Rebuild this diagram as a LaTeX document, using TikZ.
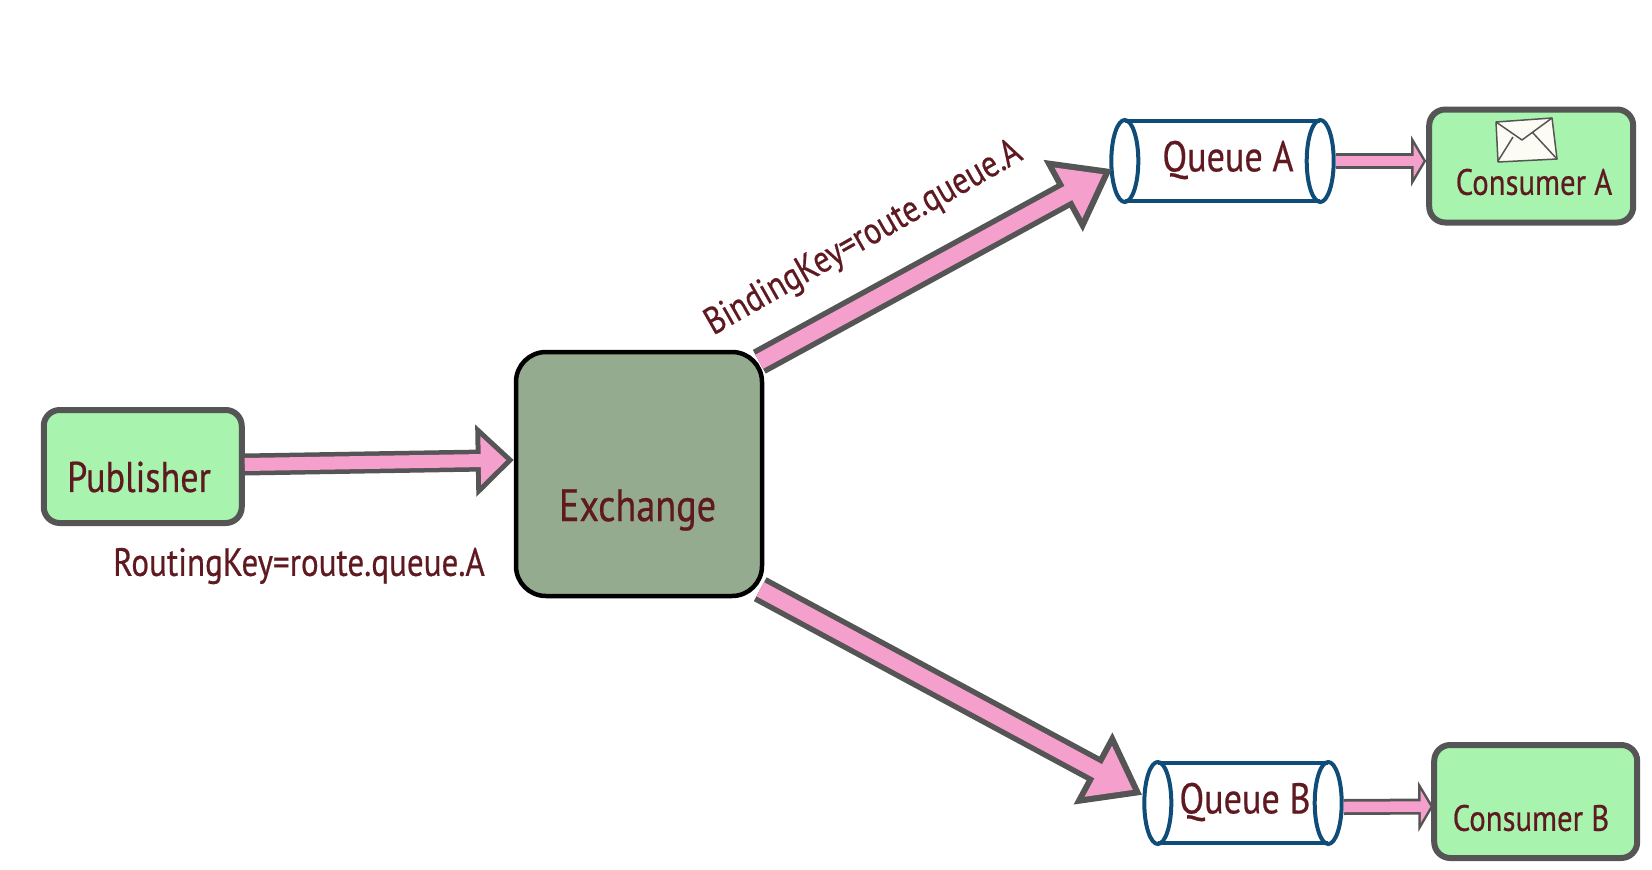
\documentclass[tikz,border=0pt]{standalone}
\usepackage{fontspec}
\setmainfont[FakeStretch=0.84,FakeBold=0.5]{PT Sans}
\usepackage{tikz}
\usetikzlibrary{
  arrows.meta,
  positioning,
  calc,
  shapes.geometric
}
\definecolor{labelred}{HTML}{5E1A20}
\definecolor{boxgreen}{HTML}{A8F3AE}
\definecolor{boxgrey}{HTML}{555555}
\definecolor{exchgreen}{HTML}{94AB90}
\definecolor{arrowpink}{HTML}{F5A0CC}
\definecolor{queueblue}{HTML}{0F4C78}
\definecolor{envelopefill}{HTML}{FCFCF4}

\begin{document}
\begin{tikzpicture}[
  x=1pt, y=-1pt,
  greenbox/.style={draw=boxgrey, fill=boxgreen, line width=6pt, rounded corners=16pt, minimum width=198pt, minimum height=113pt},
  exchangebox/.style={draw=black, fill=exchgreen, line width=4.5pt, rounded corners=30pt, minimum width=246pt, minimum height=244pt},
  queuebox/.style={minimum height=80pt, inner sep=0pt},
  queueline/.style={draw=queueblue, line width=4pt},
  queuecap/.style={ellipse, draw=queueblue, fill=white, line width=4pt, minimum width=27pt, minimum height=82pt, inner sep=0pt},
  labeltext/.style={text=labelred, font=\fontsize{43}{46}\selectfont},
  smalltext/.style={text=labelred, font=\fontsize{36.6}{40}\selectfont},
  keytext/.style={text=labelred, font=\fontsize{39.4}{42}\selectfont},
  wideedge/.style={draw=boxgrey, line width=22pt, -{Triangle[length=38pt,width=70pt]}},
  widefill/.style={draw=arrowpink, line width=13pt, shorten >=7.4pt, -{Triangle[length=25.6pt,width=47pt]}},
  diagedge/.style={draw=boxgrey, line width=27pt, -{Triangle[length=56pt,width=78pt]}},
  diagfill/.style={draw=arrowpink, line width=16pt, shorten >=10.5pt, -{Triangle[length=39.5pt,width=55pt]}},
  thinedge/.style={draw=boxgrey, line width=16pt, -{Triangle[length=15pt,width=50pt]}},
  thinfill/.style={draw=arrowpink, line width=10.5pt, shorten >=2.9pt, -{Triangle[length=9.6pt,width=32pt]}}
]
\useasboundingbox (0,0) rectangle (1652,870);

\node[exchangebox] (exchange) at (639,474) {};
\node[greenbox, left=269pt of exchange, yshift=7.5pt] (publisher) {};

\node[queuebox, minimum width=195pt] (queuea) at (1222.5,161) {};
\node[queuecap] (queueaL) at (queuea.west) {};
\node[queuecap] (queueaR) at (queuea.east) {};
\draw[queueline] (queuea.north west) -- (queuea.north east) (queuea.south west) -- (queuea.south east);

\node[queuebox, minimum width=170pt] (queueb) at (1243,803) {};
\node[queuecap] (queuebL) at (queueb.west) {};
\node[queuecap] (queuebR) at (queueb.east) {};
\draw[queueline] (queueb.north west) -- (queueb.north east) (queueb.south west) -- (queueb.south east);

\node[greenbox, minimum width=204pt, right=106pt of queuea, yshift=-5pt] (consumera) {};
\node[greenbox, minimum width=203pt, right=103pt of queueb, yshift=1.5pt] (consumerb) {};

% arrows
\draw[wideedge] ([yshift=2pt]publisher.east) -- ([yshift=14pt]exchange.west);
\draw[widefill] ([yshift=2pt]publisher.east) -- ([yshift=14pt]exchange.west);
\draw[diagedge] ([xshift=-5pt,yshift=-12pt]exchange.north east) -- ([xshift=3pt,yshift=-8pt]queueaL.west);
\draw[diagfill] ([xshift=-5pt,yshift=-12pt]exchange.north east) -- ([xshift=3pt,yshift=-8pt]queueaL.west);
\draw[diagedge] ([xshift=-4pt,yshift=9pt]exchange.south east) -- ([yshift=8pt]queuebL.west);
\draw[diagfill] ([xshift=-4pt,yshift=9pt]exchange.south east) -- ([yshift=8pt]queuebL.west);
\draw[thinedge] (queueaR.east) -- ([yshift=5pt]consumera.west);
\draw[thinfill] (queueaR.east) -- ([yshift=5pt]consumera.west);
\draw[thinedge] ([yshift=-4pt]queuebR.east) -- ([xshift=2pt,yshift=-5pt]consumerb.west);
\draw[thinfill] ([yshift=-4pt]queuebR.east) -- ([xshift=2pt,yshift=-5pt]consumerb.west);

% envelope
\draw[draw=boxgrey, fill=envelopefill, line width=1.5pt, line join=round]
  (1496,122) -- (1552,118) -- (1557,159) -- (1498,162) -- cycle;
\draw[draw=boxgrey, line width=1.5pt, line join=round]
  (1496,122) -- (1522,140) -- (1552,118)
  (1498,161) -- (1513,137)
  (1557,159) -- (1533,133);

% texts
\node[labeltext] (publishertext) at (139,477) {Publisher};
\node[labeltext, font=\fontsize{45.5}{48}\selectfont] (exchangetext) at (637.5,510) {Exchange};
\node[labeltext] (queueatext) at (1228,160) {Queue A};
\node[labeltext] (queuebtext) at (1245,802) {Queue B};
\node[smalltext] (consumeratext) at (1534,182) {Consumer A};
\node[smalltext] (consumerbtext) at (1531,818) {Consumer B};
\node[keytext] (routingtext) at (299,566) {RoutingKey=route.queue.A};
\node[keytext, rotate=29.6, font=\fontsize{38}{40}\selectfont] (bindingtext) at (864,239) {BindingKey=route.queue.A};
\end{tikzpicture}
\end{document}
